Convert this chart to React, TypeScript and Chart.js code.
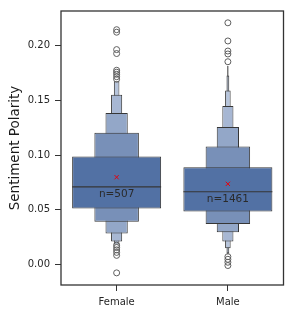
import React, { useEffect, useRef } from 'react';
import { Chart, registerables } from 'chart.js';

Chart.register(...registerables);

const categories = ['Female', 'Male'];
const counts = [507, 1461];
const medians = [0.0711, 0.0666];
const means = [0.0799, 0.0738];

// letter-value boxes, [low, high] per category (innermost first)
const level1 = [[0.0512, 0.0989], [0.0485, 0.089]];
const level2 = [[0.0392, 0.1206], [0.0371, 0.108]];
const level3 = [[0.0283, 0.1387], [0.0295, 0.1258]];
const level4 = [[0.0211, 0.1553], [0.0211, 0.1451]];
const level5 = [[0.0183, 0.1677], [0.015, 0.1593]];
const level6 = [null, [0.01, 0.1729]];
const level7 = [null, [0.0092, 0.1819]];

const femaleOutliers = [
  0.2148, 0.2125, 0.1966, 0.193, 0.1777, 0.1759, 0.174, 0.1718, 0.1695,
  0.0177, 0.0156, 0.0134, 0.0111, 0.0084, -0.0076,
];
const maleOutliers = [
  0.2211, 0.2045, 0.1953, 0.1926, 0.1855,
  0.0072, 0.0048, 0.0021, -0.0009,
];

const yTicks = [0, 0.05, 0.1, 0.15, 0.2];
const yMin = -0.0187;
const yMax = 0.2319;

const levels = [level1, level2, level3, level4, level5, level6, level7];
const levelWidths = [0.8, 0.4, 0.2, 0.1, 0.05, 0.025, 0.0125];
const levelColors = ['#5271a4', '#7890b8', '#93a7c8', '#a7b7d3', '#b7c5dc', '#c3cfe2', '#cdd7e7'];
const edgeColor = '#363636';
const FONT = "'DejaVu Sans', sans-serif";

export default function App() {
  const ref = useRef<HTMLCanvasElement | null>(null);

  useEffect(() => {
    if (!ref.current) return;
    const levelStart = 2;

    const overlay = {
      id: 'overlay',
      afterDatasetsDraw(chart: any) {
        const ctx = chart.ctx;
        const y = chart.scales.y;
        const meta = chart.getDatasetMeta(levelStart);
        ctx.save();
        categories.forEach((_c, i) => {
          const bar: any = meta.data[i];
          if (!bar) return;
          const my = y.getPixelForValue(medians[i]);
          ctx.strokeStyle = edgeColor;
          ctx.lineWidth = 1.2;
          ctx.beginPath();
          ctx.moveTo(bar.x - bar.width / 2, my);
          ctx.lineTo(bar.x + bar.width / 2, my);
          ctx.stroke();
          ctx.fillStyle = '#2a2a2a';
          ctx.font = `10.5px ${FONT}`;
          ctx.textAlign = 'center';
          ctx.textBaseline = 'top';
          ctx.fillText(`n=${counts[i]}`, bar.x, my + 2);
        });
        const a = chart.chartArea;
        ctx.strokeStyle = '#333333';
        ctx.lineWidth = 1.3;
        ctx.strokeRect(a.left, a.top, a.right - a.left, a.bottom - a.top);
        ctx.restore();
      },
    };

    const datasets: any[] = [
      {
        type: 'line',
        showLine: false,
        data: categories.map((c, i) => ({ x: c, y: means[i] })),
        pointStyle: 'crossRot',
        pointRadius: 3,
        pointBorderColor: '#e8000b',
        pointBorderWidth: 1,
        pointBackgroundColor: '#e8000b',
      },
      {
        type: 'line',
        showLine: false,
        data: [
          ...femaleOutliers.map((v) => ({ x: categories[0], y: v })),
          ...maleOutliers.map((v) => ({ x: categories[1], y: v })),
        ],
        pointStyle: 'circle',
        pointRadius: 3,
        pointBorderColor: '#5e5e5e',
        pointBorderWidth: 1,
        pointBackgroundColor: 'rgba(255,255,255,0)',
      },
      ...levels.map((lv, k) => ({
        type: 'bar',
        data: lv,
        backgroundColor: levelColors[k],
        borderColor: edgeColor,
        borderWidth: 1,
        borderSkipped: false,
        barPercentage: levelWidths[k],
        categoryPercentage: 1,
        grouped: false,
      })),
    ];

    const chart = new Chart(ref.current, {
      type: 'bar',
      data: { labels: categories, datasets },
      options: {
        animation: false,
        responsive: true,
        maintainAspectRatio: false,
        layout: { padding: { top: 8, right: 8.5, left: 0, bottom: 0 } },
        plugins: { legend: { display: false }, tooltip: { enabled: false } },
        scales: {
          x: {
            type: 'category',
            offset: true,
            grid: {
              display: true,
              drawOnChartArea: false,
              drawTicks: true,
              tickLength: 6,
              color: '#333333',
              offset: false,
            },
            border: { display: false },
            ticks: { font: { family: FONT, size: 10 }, color: '#262626', padding: 5 },
            afterFit: (s: any) => {
              s.height = 30;
            },
          },
          y: {
            type: 'linear',
            min: yMin,
            max: yMax,
            afterBuildTicks: (s: any) => {
              s.ticks = yTicks.map((v) => ({ value: v }));
            },
            grid: {
              display: true,
              drawOnChartArea: false,
              drawTicks: true,
              tickLength: 6,
              color: '#333333',
            },
            border: { display: false },
            ticks: {
              font: { family: FONT, size: 10 },
              color: '#262626',
              padding: 5,
              callback: (v: any) => Number(v).toFixed(2),
            },
            title: {
              display: true,
              text: 'Sentiment Polarity',
              font: { family: FONT, size: 13.5 },
              color: '#1a1a1a',
              padding: { top: 7, bottom: 0 },
            },
            afterFit: (s: any) => {
              s.width = 61;
            },
          },
        },
      },
      plugins: [overlay],
    });
    return () => chart.destroy();
  }, []);

  return (
    <div style={{ position: 'fixed', left: 0, top: 0, width: 292, height: 315, background: '#fff' }}>
      <canvas ref={ref} />
    </div>
  );
}
